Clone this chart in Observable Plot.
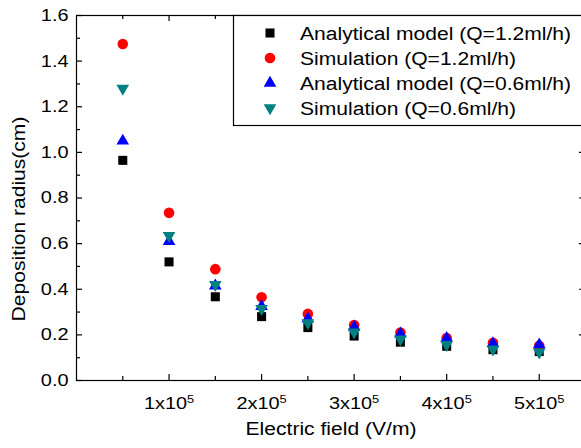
<!DOCTYPE html>
<html>
<head>
<meta charset="utf-8">
<script src="https://cdn.jsdelivr.net/npm/d3@7"></script>
<script src="https://cdn.jsdelivr.net/npm/@observablehq/plot@0.6"></script>
<style>
  body { margin: 0; background: #fff; }
  #chart { position: relative; width: 581px; height: 448px; overflow: hidden; }
  #chart svg { overflow: hidden; }
</style>
</head>
<body>
<div id="chart"></div>
<script>
// Electric field (V/m) and deposition radius (cm) for each case
const electricField = [50000, 100000, 150000, 200000, 250000, 300000, 350000, 400000, 450000, 500000];
const analyticalQ12 = [0.965, 0.52, 0.367, 0.28, 0.232, 0.195, 0.168, 0.15, 0.135, 0.127];
const simulationQ12 = [1.475, 0.735, 0.488, 0.365, 0.292, 0.243, 0.21, 0.186, 0.165, 0.152];
const analyticalQ06 = [1.05, 0.61, 0.415, 0.325, 0.27, 0.234, 0.205, 0.185, 0.162, 0.157];
const simulationQ06 = [1.28, 0.635, 0.42, 0.315, 0.252, 0.212, 0.181, 0.157, 0.137, 0.124];
const seriesNames = [
  "Analytical model (Q=1.2ml/h)",
  "Simulation (Q=1.2ml/h)",
  "Analytical model (Q=0.6ml/h)",
  "Simulation (Q=0.6ml/h)"
];

// Axis ticks
const xMajorTicks = [100000, 200000, 300000, 400000, 500000];
const xMinorTicks = [50000, 150000, 250000, 350000, 450000];
const yMajorTicks = [0, 0.2, 0.4, 0.6, 0.8, 1.0, 1.2, 1.4, 1.6];
const yMinorTicks = [0.1, 0.3, 0.5, 0.7, 0.9, 1.1, 1.3, 1.5];

const seriesValues = [analyticalQ12, simulationQ12, analyticalQ06, simulationQ06];
const seriesStyles = [
  {symbol: "square", d3symbol: d3.symbolSquare, fill: "#000000", r: 5.1, rotate: 0},
  {symbol: "circle", d3symbol: d3.symbolCircle, fill: "#ff0000", r: 5.3, rotate: 0},
  {symbol: "triangle", d3symbol: d3.symbolTriangle, fill: "#0000ff", r: 4.7, rotate: 0},
  {symbol: "triangle", d3symbol: d3.symbolTriangle, fill: "#008080", r: 4.7, rotate: 180}
];
const series = seriesNames.map((name, i) => ({
  name,
  ...seriesStyles[i],
  rows: electricField.map((x, j) => ({x, y: seriesValues[i][j]}))
}));

const W = 581, H = 448;
const mTop = 15, mBottom = 68, mLeft = 76, mRight = -4;
const plotH = H - mTop - mBottom;
const plotW = W - mLeft - mRight;
const font = "'Liberation Sans', Arial, sans-serif";
const ink = "#000";

const chart = Plot.plot({
  width: W,
  height: H,
  marginTop: mTop,
  marginBottom: mBottom,
  marginLeft: mLeft,
  marginRight: mRight,
  style: {fontFamily: font, fontSize: "17px", color: ink, background: "#fff"},
  x: {domain: [0, 550000]},
  y: {domain: [0, 1.6]},
  marks: [
    Plot.frame({stroke: ink, strokeWidth: 1.2}),
    // inward ticks on all four sides
    Plot.tickX(xMajorTicks, {x: d => d, insetTop: plotH - 6, stroke: ink, strokeWidth: 1.2}),
    Plot.tickX(xMinorTicks, {x: d => d, insetTop: plotH - 4, stroke: ink, strokeWidth: 1.2}),
    Plot.tickX(xMajorTicks, {x: d => d, insetBottom: plotH - 6, stroke: ink, strokeWidth: 1.2}),
    Plot.tickX(xMinorTicks, {x: d => d, insetBottom: plotH - 4, stroke: ink, strokeWidth: 1.2}),
    Plot.tickY(yMajorTicks, {y: d => d, insetRight: plotW - 6, stroke: ink, strokeWidth: 1.2}),
    Plot.tickY(yMinorTicks, {y: d => d, insetRight: plotW - 4, stroke: ink, strokeWidth: 1.2}),
    Plot.tickY(yMajorTicks, {y: d => d, insetLeft: plotW - 6, stroke: ink, strokeWidth: 1.2}),
    Plot.tickY(yMinorTicks, {y: d => d, insetLeft: plotW - 4, stroke: ink, strokeWidth: 1.2}),
    Plot.axisY(yMajorTicks, {tickSize: 0, tickPadding: 8, tickFormat: d3.format(".1f"), fontSize: 17, label: null}),
    Plot.axisX(xMajorTicks, {tickSize: 0, tickPadding: 16, tickFormat: d => `${d / 100000}x10`, fontSize: 17, label: null}),
    Plot.text(["Electric field (V/m)"], {frameAnchor: "bottom", dy: 54, fontSize: 18, fill: ink}),
    Plot.text(["Deposition radius(cm)"], {
      frameAnchor: "left", textAnchor: "middle", dx: -57, dy: 21, rotate: -90, fontSize: 18, fill: ink
    }),
    ...series.map(s => Plot.dot(s.rows, {
      x: "x", y: "y", symbol: () => s.symbol, r: s.r, rotate: s.rotate, fill: s.fill, stroke: "none"
    }))
  ]
});

document.getElementById("chart").appendChild(chart);
const svg = d3.select(chart);

// superscript exponent on the x tick labels
svg.selectAll("g[aria-label='x-axis tick label'] text").each(function () {
  d3.select(this).append("tspan").attr("dy", "-0.5em").attr("font-size", "11px").text("5");
});

// legend box
const legend = svg.append("g")
  .attr("font-family", font).attr("font-size", 18).attr("text-anchor", "start");
legend.append("rect")
  .attr("x", 233.5).attr("y", mTop + 0.5).attr("width", 400).attr("height", 110)
  .attr("fill", "#fff").attr("stroke", ink).attr("stroke-width", 1.2);
series.forEach((s, i) => {
  const cy = 33 + i * 25;
  legend.append("path")
    .attr("d", d3.symbol(s.d3symbol, Math.PI * s.r * s.r)())
    .attr("fill", s.fill)
    .attr("transform", `translate(270,${cy}) rotate(${s.rotate})`);
  legend.append("text")
    .attr("x", 300).attr("y", cy + 6.5).attr("fill", ink).attr("text-anchor", "start")
    .text(s.name);
});

// widen glyphs slightly to the chart's typeface proportions
svg.selectAll("text").each(function () {
  const len = this.getComputedTextLength();
  if (len > 0) {
    this.setAttribute("textLength", (len * 1.17).toFixed(1));
    this.setAttribute("lengthAdjust", "spacingAndGlyphs");
  }
});
</script>
</body>
</html>
